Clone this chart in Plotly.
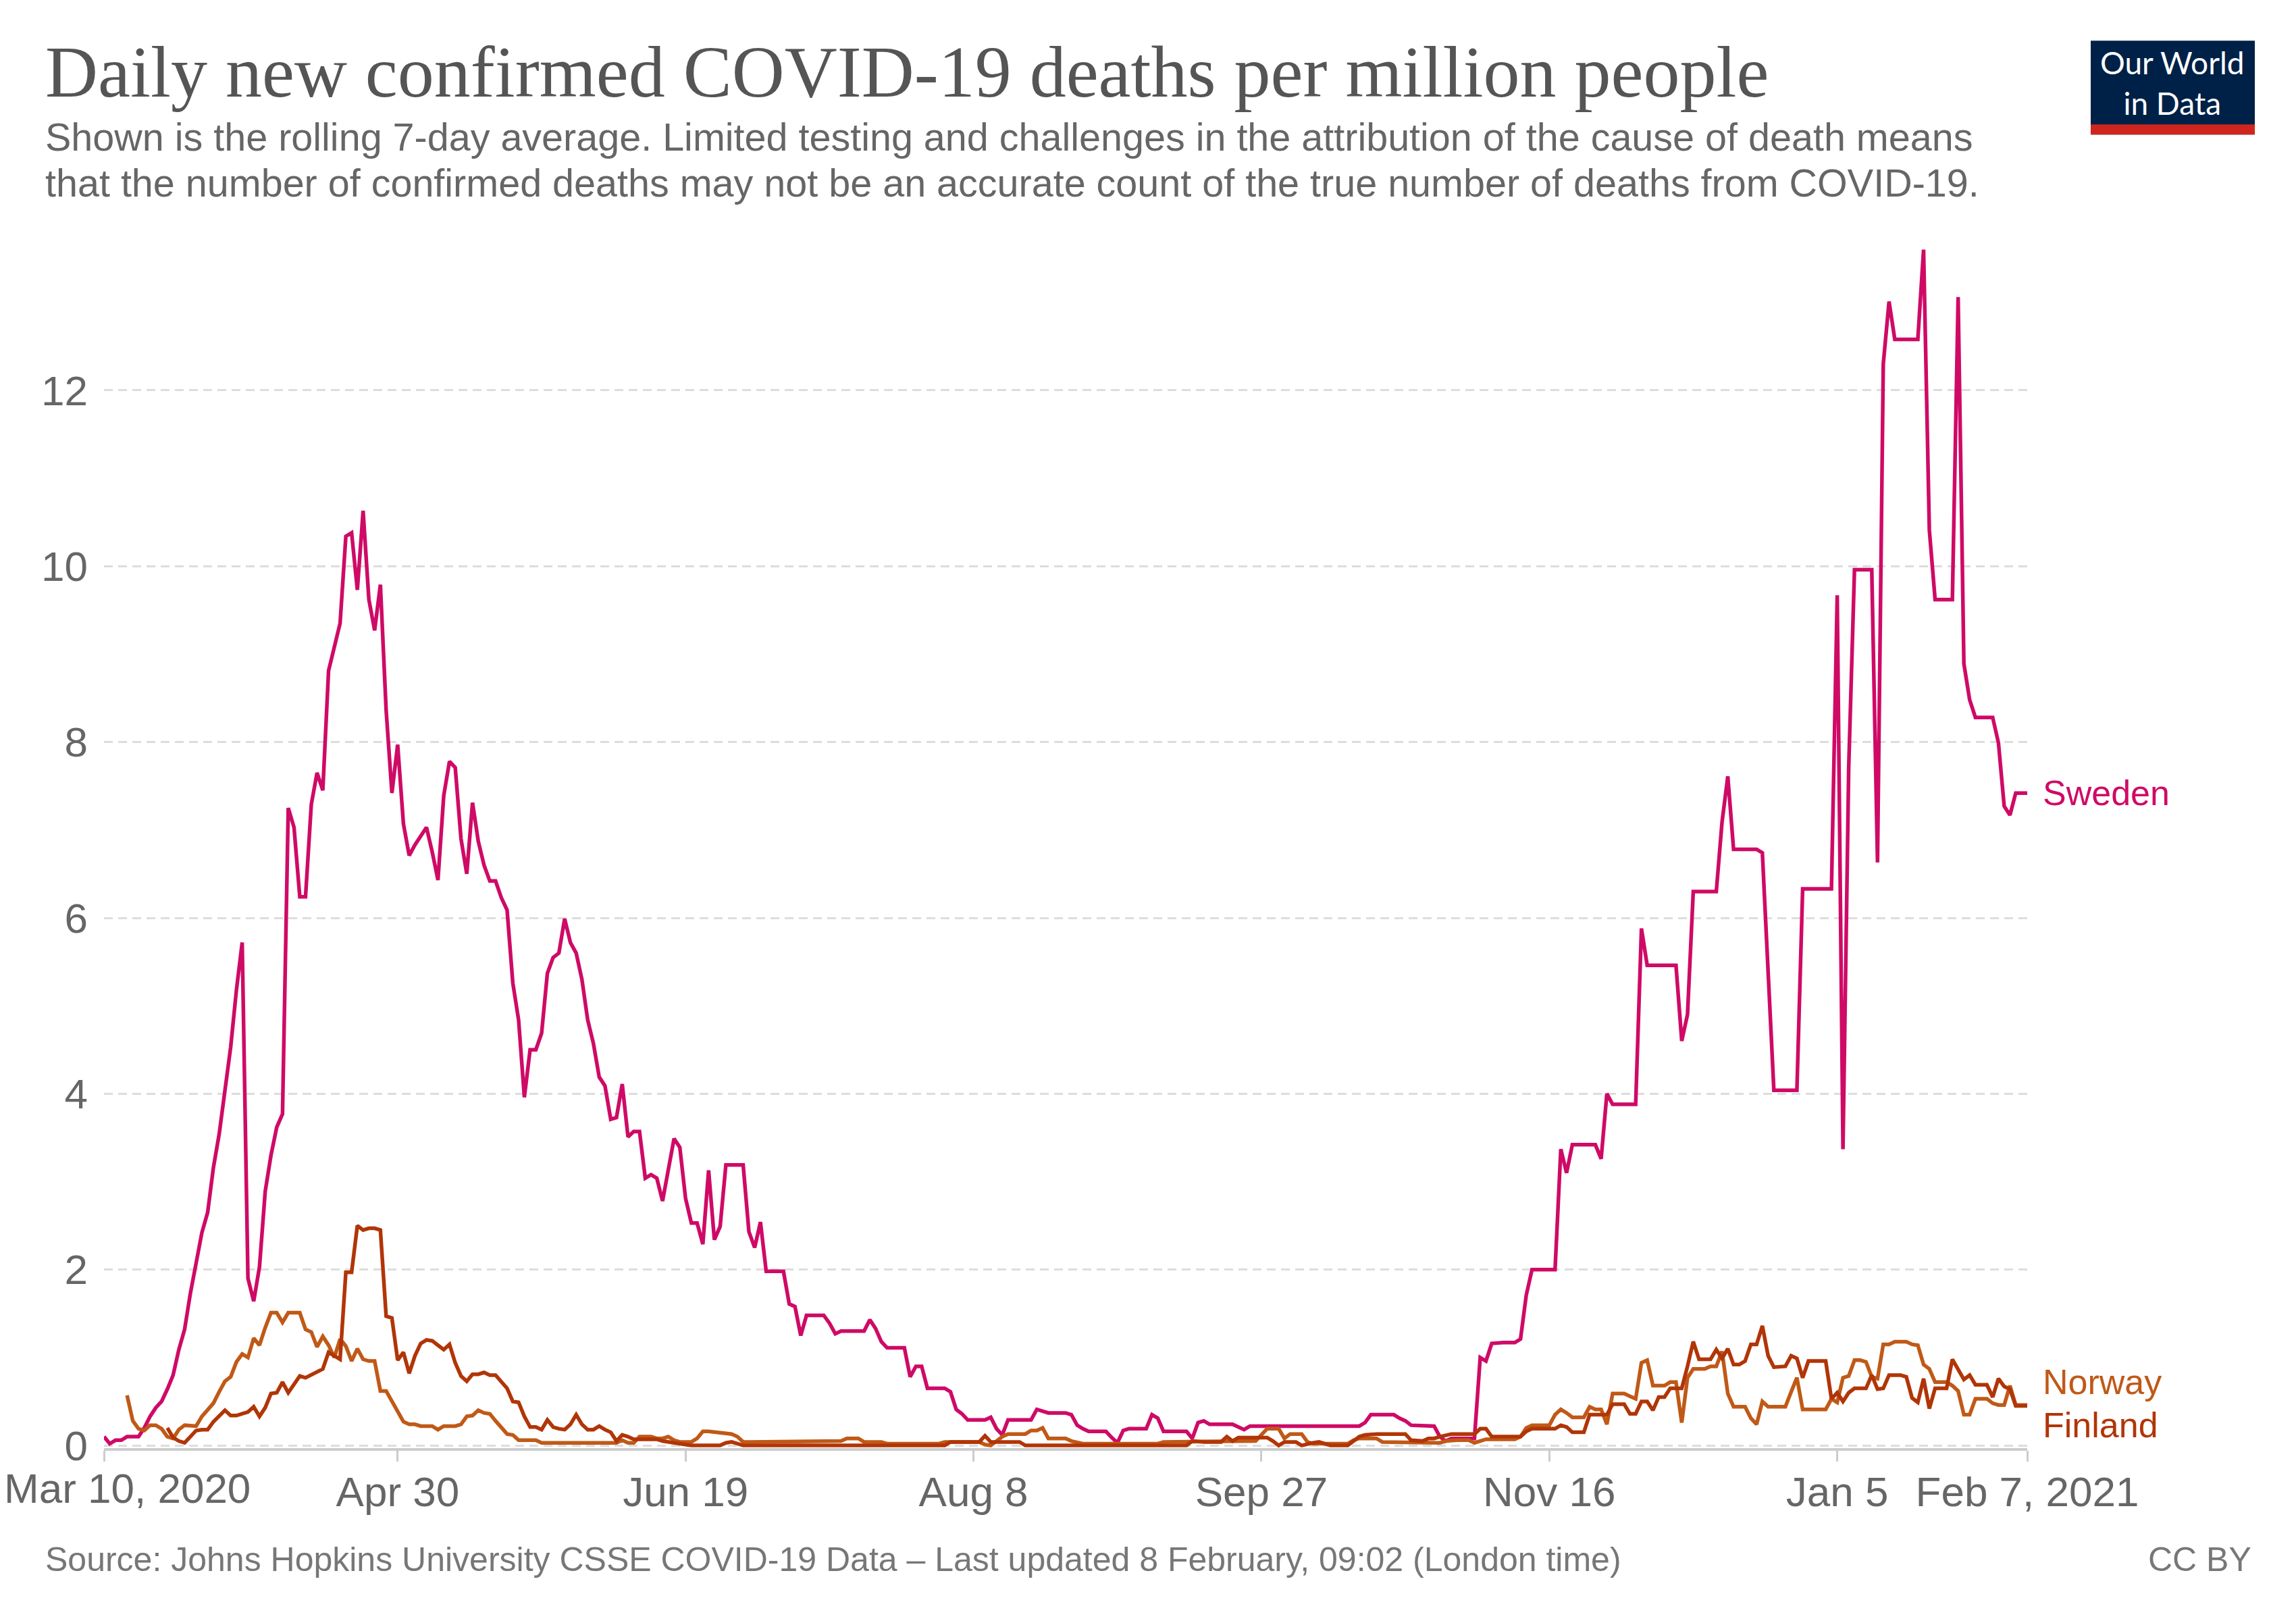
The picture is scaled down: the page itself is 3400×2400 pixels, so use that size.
import plotly.graph_objects as go
import pandas as pd

# ---------------- data ----------------
dates = pd.date_range("2020-03-10", "2021-02-07", freq="D").strftime("%Y-%m-%d").tolist()

sweden = [
    0.10, 0.02, 0.06, 0.06, 0.10, 0.10, 0.10, 0.20, 0.33, 0.43,
    0.50, 0.64, 0.80, 1.09, 1.32, 1.73, 2.10, 2.42, 2.65, 3.16,
    3.54, 4.00, 4.53, 5.18, 5.72, 1.90, 1.64, 2.03, 2.89, 3.30,
    3.62, 3.77, 7.25, 7.03, 6.24, 6.24, 7.29, 7.65, 7.45, 8.81,
    9.06, 9.35, 10.34, 10.38, 9.73, 10.63, 9.62, 9.27, 9.79, 8.36,
    7.42, 7.97, 7.07, 6.71, 6.83, 6.93, 7.03, 6.75, 6.43, 7.39,
    7.78, 7.71, 6.90, 6.50, 7.31, 6.87, 6.60, 6.42, 6.42, 6.23,
    6.09, 5.26, 4.84, 3.96, 4.50, 4.50, 4.69, 5.37, 5.55, 5.60,
    5.99, 5.72, 5.60, 5.30, 4.84, 4.57, 4.19, 4.09, 3.71, 3.73,
    4.11, 3.51, 3.57, 3.57, 3.04, 3.08, 3.04, 2.78, 3.15, 3.49,
    3.39, 2.81, 2.53, 2.53, 2.29, 3.13, 2.34, 2.49, 3.19, 3.19,
    3.19, 3.19, 2.43, 2.25, 2.54, 1.98, 1.98, 1.98, 1.98, 1.61,
    1.58, 1.25, 1.48, 1.48, 1.48, 1.48, 1.39, 1.27, 1.30, 1.30,
    1.30, 1.30, 1.30, 1.43, 1.33, 1.18, 1.11, 1.11, 1.11, 1.11,
    0.78, 0.90, 0.90, 0.65, 0.65, 0.65, 0.65, 0.61, 0.41, 0.36,
    0.29, 0.29, 0.29, 0.29, 0.32, 0.19, 0.12, 0.29, 0.29, 0.29,
    0.29, 0.29, 0.41, 0.39, 0.37, 0.37, 0.37, 0.37, 0.35, 0.23,
    0.19, 0.16, 0.16, 0.16, 0.16, 0.09, 0.03, 0.17, 0.19, 0.19,
    0.19, 0.19, 0.35, 0.31, 0.16, 0.16, 0.16, 0.16, 0.16, 0.08,
    0.26, 0.28, 0.24, 0.24, 0.24, 0.24, 0.24, 0.21, 0.18, 0.22,
    0.22, 0.22, 0.22, 0.22, 0.22, 0.22, 0.22, 0.22, 0.22, 0.22,
    0.22, 0.22, 0.22, 0.22, 0.22, 0.22, 0.22, 0.22, 0.22, 0.26,
    0.35, 0.35, 0.35, 0.35, 0.35, 0.31, 0.28, 0.23, 0.23, 0.23,
    0.23, 0.22, 0.10, 0.05, 0.08, 0.08, 0.08, 0.08, 0.08, 1.00,
    0.96, 1.16, 1.17, 1.17, 1.17, 1.17, 1.21, 1.71, 2.00, 2.00,
    2.00, 2.00, 2.00, 3.37, 3.10, 3.42, 3.42, 3.42, 3.42, 3.42,
    3.26, 4.00, 3.88, 3.88, 3.88, 3.88, 3.88, 5.88, 5.46, 5.46,
    5.46, 5.46, 5.46, 5.46, 4.60, 4.90, 6.30, 6.30, 6.30, 6.30,
    6.30, 7.09, 7.61, 6.78, 6.78, 6.78, 6.78, 6.78, 6.74, 5.40,
    4.04, 4.04, 4.04, 4.04, 4.04, 6.33, 6.33, 6.33, 6.33, 6.33,
    6.33, 9.67, 3.37, 7.72, 9.96, 9.96, 9.96, 9.96, 6.63, 12.30,
    13.01, 12.58, 12.58, 12.58, 12.58, 12.58, 13.60, 10.41, 9.62, 9.62,
    9.62, 9.62, 13.06, 8.89, 8.48, 8.28, 8.28, 8.28, 8.28, 7.99,
    7.27, 7.17, 7.42, 7.42, 7.42,
]

norway = [
    None, None, None, None, 0.57, 0.28, 0.19, 0.17, 0.23, 0.23,
    0.19, 0.10, 0.08, 0.18, 0.23, 0.22, 0.22, 0.33, 0.41, 0.48,
    0.61, 0.73, 0.78, 0.95, 1.04, 1.00, 1.22, 1.14, 1.34, 1.51,
    1.51, 1.40, 1.51, 1.51, 1.51, 1.32, 1.29, 1.12, 1.24, 1.14,
    1.00, 1.21, 1.13, 0.96, 1.10, 0.98, 0.96, 0.96, 0.62, 0.62,
    0.50, 0.38, 0.27, 0.24, 0.24, 0.22, 0.22, 0.22, 0.18, 0.22,
    0.22, 0.22, 0.24, 0.33, 0.34, 0.40, 0.37, 0.36, 0.28, 0.20,
    0.13, 0.12, 0.06, 0.06, 0.06, 0.06, 0.03, 0.03, 0.03, 0.03,
    0.03, 0.03, 0.03, 0.03, 0.03, 0.03, 0.03, 0.03, 0.03, 0.03,
    0.06, 0.03, 0.03, 0.10, 0.10, 0.10, 0.08, 0.08, 0.10, 0.06,
    0.04, 0.04, 0.04, 0.08, 0.16, 0.16, 0.15, 0.14, 0.13, 0.13,
    0.10, 0.04, 0.04, 0.04, 0.04, 0.04, 0.04, 0.04, 0.04, 0.04,
    0.04, 0.04, 0.04, 0.04, 0.04, 0.04, 0.04, 0.04, 0.05, 0.08,
    0.08, 0.08, 0.04, 0.04, 0.04, 0.04, 0.02, 0.02, 0.02, 0.02,
    0.02, 0.02, 0.02, 0.02, 0.02, 0.02, 0.04, 0.04, 0.04, 0.04,
    0.04, 0.04, 0.04, 0.01, 0.00, 0.05, 0.10, 0.13, 0.13, 0.13,
    0.13, 0.17, 0.17, 0.20, 0.08, 0.08, 0.08, 0.08, 0.05, 0.03,
    0.02, 0.02, 0.02, 0.02, 0.02, 0.02, 0.02, 0.02, 0.02, 0.02,
    0.02, 0.02, 0.02, 0.02, 0.04, 0.04, 0.04, 0.04, 0.04, 0.04,
    0.04, 0.04, 0.04, 0.04, 0.04, 0.04, 0.04, 0.04, 0.04, 0.05,
    0.05, 0.12, 0.19, 0.19, 0.19, 0.08, 0.13, 0.13, 0.13, 0.04,
    0.02, 0.02, 0.02, 0.02, 0.02, 0.02, 0.02, 0.06, 0.08, 0.08,
    0.08, 0.08, 0.04, 0.04, 0.04, 0.04, 0.04, 0.04, 0.04, 0.03,
    0.03, 0.03, 0.03, 0.05, 0.06, 0.06, 0.06, 0.06, 0.03, 0.05,
    0.07, 0.07, 0.07, 0.07, 0.07, 0.07, 0.10, 0.20, 0.23, 0.23,
    0.23, 0.23, 0.35, 0.41, 0.37, 0.32, 0.32, 0.32, 0.44, 0.41,
    0.41, 0.24, 0.59, 0.59, 0.59, 0.56, 0.53, 0.94, 0.97, 0.68,
    0.68, 0.68, 0.72, 0.72, 0.26, 0.77, 0.87, 0.87, 0.87, 0.90,
    0.90, 1.07, 0.59, 0.44, 0.44, 0.44, 0.31, 0.24, 0.50, 0.44,
    0.44, 0.44, 0.44, 0.61, 0.77, 0.41, 0.41, 0.41, 0.41, 0.41,
    0.53, 0.49, 0.77, 0.79, 0.97, 0.97, 0.95, 0.78, 0.76, 1.15,
    1.15, 1.18, 1.18, 1.18, 1.15, 1.14, 0.92, 0.87, 0.72, 0.72,
    0.72, 0.68, 0.62, 0.35, 0.35, 0.53, 0.53, 0.53, 0.48, 0.46,
    0.46, 0.68, 0.46, 0.46, 0.46,
]

finland = [
    None, None, None, None, None, None, None, None, None, None,
    None, 0.20, 0.09, 0.05, 0.03, 0.10, 0.17, 0.18, 0.18, 0.27,
    0.34, 0.40, 0.34, 0.34, 0.36, 0.38, 0.44, 0.33, 0.43, 0.59,
    0.60, 0.72, 0.60, 0.69, 0.79, 0.77, 0.80, 0.84, 0.87, 1.06,
    1.02, 0.98, 1.97, 1.97, 2.50, 2.45, 2.47, 2.47, 2.45, 1.47,
    1.45, 0.97, 1.06, 0.82, 1.02, 1.16, 1.20, 1.19, 1.14, 1.09,
    1.15, 0.94, 0.79, 0.73, 0.81, 0.81, 0.83, 0.80, 0.80, 0.72,
    0.65, 0.50, 0.49, 0.33, 0.21, 0.21, 0.18, 0.29, 0.21, 0.19,
    0.18, 0.24, 0.35, 0.24, 0.18, 0.18, 0.22, 0.18, 0.15, 0.05,
    0.12, 0.10, 0.07, 0.07, 0.07, 0.07, 0.07, 0.05, 0.04, 0.02,
    0.01, 0.00, 0.00, 0.00, 0.00, 0.00, 0.00, 0.00, 0.03, 0.04,
    0.02, 0.00, 0.00, 0.00, 0.00, 0.00, 0.00, 0.00, 0.00, 0.00,
    0.00, 0.00, 0.00, 0.00, 0.00, 0.00, 0.00, 0.00, 0.00, 0.00,
    0.00, 0.00, 0.00, 0.00, 0.00, 0.00, 0.00, 0.00, 0.00, 0.00,
    0.00, 0.00, 0.00, 0.00, 0.00, 0.00, 0.00, 0.04, 0.04, 0.04,
    0.04, 0.04, 0.04, 0.11, 0.04, 0.04, 0.04, 0.04, 0.04, 0.04,
    0.00, 0.00, 0.00, 0.00, 0.00, 0.00, 0.00, 0.00, 0.00, 0.00,
    0.00, 0.00, 0.00, 0.00, 0.00, 0.00, 0.00, 0.00, 0.00, 0.00,
    0.00, 0.00, 0.00, 0.00, 0.00, 0.00, 0.00, 0.00, 0.00, 0.05,
    0.04, 0.04, 0.04, 0.04, 0.04, 0.10, 0.05, 0.09, 0.09, 0.09,
    0.09, 0.09, 0.09, 0.05, 0.00, 0.04, 0.04, 0.04, 0.00, 0.02,
    0.03, 0.04, 0.02, 0.00, 0.00, 0.00, 0.00, 0.05, 0.10, 0.12,
    0.13, 0.13, 0.13, 0.13, 0.13, 0.13, 0.13, 0.06, 0.05, 0.05,
    0.08, 0.08, 0.10, 0.12, 0.13, 0.13, 0.13, 0.13, 0.13, 0.19,
    0.19, 0.10, 0.10, 0.10, 0.10, 0.10, 0.10, 0.16, 0.19, 0.19,
    0.19, 0.19, 0.19, 0.23, 0.21, 0.15, 0.15, 0.15, 0.35, 0.35,
    0.35, 0.35, 0.47, 0.47, 0.47, 0.36, 0.36, 0.50, 0.50, 0.40,
    0.55, 0.55, 0.65, 0.65, 0.65, 0.90, 1.18, 0.98, 0.98, 0.98,
    1.09, 0.99, 1.10, 0.92, 0.92, 0.96, 1.15, 1.15, 1.36, 1.02,
    0.89, 0.89, 0.90, 1.02, 0.99, 0.77, 0.96, 0.96, 0.96, 0.96,
    0.53, 0.60, 0.50, 0.60, 0.65, 0.65, 0.65, 0.80, 0.64, 0.65,
    0.80, 0.80, 0.80, 0.78, 0.54, 0.49, 0.76, 0.42, 0.65, 0.65,
    0.65, 0.98, 0.87, 0.75, 0.80, 0.69, 0.69, 0.69, 0.55, 0.76,
    0.67, 0.64, 0.45, 0.45, 0.45,
]

countries = ["Sweden", "Norway", "Finland"]
colors = ["#CF0A66", "#C05917", "#B13507"]

tick_dates = ["2020-03-10", "2020-04-30", "2020-06-19", "2020-08-08",
              "2020-09-27", "2020-11-16", "2021-01-05", "2021-02-07"]
tick_labels = ["Mar 10, 2020", "Apr 30", "Jun 19", "Aug 8",
               "Sep 27", "Nov 16", "Jan 5", "Feb 7, 2021"]
y_ticks = [0, 2, 4, 6, 8, 10, 12]

title_text = "Daily new confirmed COVID-19 deaths per million people"
subtitle_lines = [
    "Shown is the rolling 7-day average. Limited testing and challenges in the attribution of the cause of death means",
    "that the number of confirmed deaths may not be an accurate count of the true number of deaths from COVID-19.",
]
source_text = "Source: Johns Hopkins University CSSE COVID-19 Data \u2013 Last updated 8 February, 09:02 (London time)"
license_text = "CC BY"

# ---------------- geometry ----------------
FIG_W, FIG_H = 3400, 2400
K = 130.2                      # px per unit on y
Y0_PX = 2140                   # pixel of y = 0
YMIN, YMAX = -0.03, 13.62
L, R = 154, 3002
B = Y0_PX - YMIN * K
T = Y0_PX - YMAX * K
PW, PH = R - L, B - T


def px(xp):
    return (xp - L) / PW


def py(yp):
    return (B - yp) / PH


SANS = "Liberation Sans, Arial, Helvetica, sans-serif"
SERIF = "Liberation Serif, Times New Roman, serif"

fig = go.Figure()
for name, col, vals in zip(countries, colors, [sweden, norway, finland]):
    fig.add_trace(go.Scatter(
        x=dates, y=vals, mode="lines", name=name,
        line=dict(color=col, width=5.5),
        hoverinfo="skip",
    ))

fig.update_layout(
    width=FIG_W, height=FIG_H,
    margin=dict(l=L, r=FIG_W - R, t=T, b=FIG_H - B, pad=0),
    paper_bgcolor="white", plot_bgcolor="white",
    showlegend=False,
    font=dict(family=SANS, color="#666666"),
)

fig.update_xaxes(
    type="date", range=[dates[0], dates[-1]],
    tickvals=tick_dates, ticktext=[""] + tick_labels[1:],
    showgrid=False, zeroline=False,
    showline=True, linecolor="#cccccc", linewidth=4,
    ticks="outside", ticklen=16, tickwidth=3, tickcolor="#cccccc",
    ticklabelstandoff=-8,
    tickfont=dict(family=SANS, size=62, color="#666666"),
)
fig.update_yaxes(
    range=[YMIN, YMAX], tickvals=y_ticks,
    showgrid=True, gridcolor="#dddddd", gridwidth=3, griddash="13px,8px",
    zeroline=False, showline=False, ticks="",
    ticklabelstandoff=23,
    tickfont=dict(family=SANS, size=62, color="#666666"),
)

ann = []
# title & subtitle
ann.append(dict(text=title_text, x=px(65), y=py(106), xref="paper", yref="paper",
                xanchor="left", yanchor="middle", showarrow=False,
                font=dict(family=SERIF, size=108, color="#555555")))
for line, yc in zip(subtitle_lines, [203, 271]):
    ann.append(dict(text=line, x=px(65), y=py(yc), xref="paper", yref="paper",
                    xanchor="left", yanchor="middle", showarrow=False,
                    font=dict(family=SANS, size=57.5, color="#666666")))
# footer
ann.append(dict(text=source_text, x=px(65), y=py(2309), xref="paper", yref="paper",
                xanchor="left", yanchor="middle", showarrow=False,
                font=dict(family=SANS, size=50, color="#777777")))
ann.append(dict(text=license_text, x=px(3336), y=py(2309), xref="paper", yref="paper",
                xanchor="right", yanchor="middle", showarrow=False,
                font=dict(family=SANS, size=50, color="#777777")))
# first x tick label (left-aligned so it stays on the canvas)
ann.append(dict(text=tick_labels[0], x=px(4), y=py(2203), xref="paper", yref="paper",
                xanchor="left", yanchor="middle", showarrow=False,
                font=dict(family=SANS, size=62, color="#666666")))
# series labels
label_shift = {"Sweden": 0, "Norway": 34, "Finland": -28}
for name, col, vals in zip(countries, colors, [sweden, norway, finland]):
    ann.append(dict(text=name, x=dates[-1], y=vals[-1], xref="x", yref="y",
                    xanchor="left", yanchor="middle", xshift=21, yshift=label_shift[name],
                    showarrow=False, font=dict(family=SANS, size=52, color=col)))
# logo text (one block, two lines)
ann.append(dict(text="Our World<br>in Data", x=px(3217.5), y=py(122), xref="paper", yref="paper",
                xanchor="center", yanchor="middle", showarrow=False, align="center",
                font=dict(family="Lato, sans-serif", size=46, color="white")))
fig.update_layout(annotations=ann)

fig.update_layout(shapes=[
    dict(type="rect", xref="paper", yref="paper", x0=px(3096), x1=px(3339),
         y0=py(199), y1=py(60), fillcolor="#002147", line=dict(width=0), layer="below"),
    dict(type="rect", xref="paper", yref="paper", x0=px(3096), x1=px(3339),
         y0=py(199), y1=py(184), fillcolor="#CE261E", line=dict(width=0), layer="below"),
])

fig.write_html("out.html")
